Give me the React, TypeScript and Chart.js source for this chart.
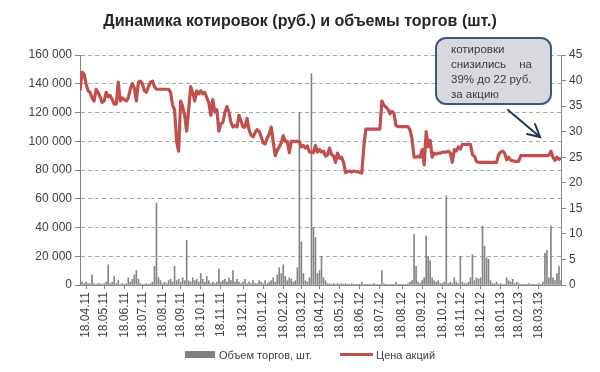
import React, { useEffect, useRef } from 'react';
import { Chart, registerables } from 'chart.js';

Chart.register(...registerables);

const FONT = '"Liberation Sans", Arial, sans-serif';

const title = 'Динамика котировок (руб.) и объемы торгов (шт.)';

// month tick labels and the trading-day index at which each falls
const months = [
  '18.04.11', '18.05.11', '18.06.11', '18.07.11', '18.08.11', '18.09.11', '18.10.11', '18.11.11', '18.12.11',
  '18.01.12', '18.02.12', '18.03.12', '18.04.12', '18.05.12', '18.06.12', '18.07.12', '18.08.12', '18.09.12',
  '18.10.12', '18.11.12', '18.12.12', '18.01.13', '18.02.13', '18.03.13',
];
const monthIndex = [3, 12, 22, 31, 41, 50, 60, 70, 81, 91, 101, 110, 119, 129, 139, 149, 160, 170, 180, 189, 199, 209, 218, 228];

// share price, rub.
const price = [
  38.0, 41.6, 41.3, 39.4, 38.0, 37.7, 36.6, 36.0, 38.3, 37.7,
  36.8, 35.7, 36.0, 37.7, 36.8, 37.1, 36.3, 35.4, 35.4, 39.7,
  36.0, 36.6, 36.3, 36.0, 36.6, 38.3, 39.4, 38.5, 36.0, 39.7,
  39.9, 39.4, 38.0, 37.7, 38.8, 39.7, 39.9, 38.8, 38.3, 38.3,
  38.3, 38.3, 38.3, 38.3, 38.3, 37.7, 35.2, 34.3, 28.1, 26.2,
  36.0, 34.9, 33.2, 30.1, 34.3, 38.8, 37.7, 36.0, 38.0, 37.4,
  38.0, 37.4, 37.7, 36.6, 35.7, 33.2, 36.3, 33.8, 34.3, 30.1,
  31.5, 31.8, 33.8, 34.9, 33.8, 31.8, 30.9, 31.2, 30.9, 33.2,
  32.1, 30.9, 30.9, 32.6, 30.4, 29.3, 29.0, 29.8, 30.4, 30.1,
  29.0, 27.8, 27.6, 28.7, 29.5, 30.9, 28.1, 25.3, 26.4, 27.0,
  27.8, 29.2, 28.1, 28.1, 25.9, 28.1, 28.1, 28.1, 28.1, 28.0,
  27.0, 27.3, 26.8, 27.2, 26.0, 26.0, 25.9, 27.3, 26.0, 26.5,
  26.0, 26.2, 25.2, 25.5, 26.8, 25.5, 25.3, 24.0, 25.8, 24.8,
  25.0, 23.9, 22.0, 22.2, 22.3, 22.1, 22.3, 22.2, 22.2, 22.0,
  21.9, 27.0, 30.5, 30.5, 30.5, 30.5, 30.5, 30.5, 30.5, 30.5,
  36.0, 35.2, 34.8, 34.4, 33.5, 34.0, 33.6, 31.2, 31.0, 31.0,
  31.0, 31.0, 31.0, 31.0, 30.3, 28.5, 25.0, 25.0, 25.2, 25.0,
  26.5, 23.5, 30.0, 27.0, 28.3, 25.0, 25.8, 25.6, 25.8, 25.8,
  26.0, 26.0, 26.0, 26.2, 25.8, 24.0, 26.5, 26.2, 27.0, 26.6,
  27.5, 27.5, 27.5, 27.5, 27.5, 25.5, 25.2, 24.2, 24.0, 24.0,
  24.0, 24.0, 24.0, 24.0, 24.0, 24.0, 24.0, 24.0, 25.5, 26.0,
  26.2, 25.8, 24.5, 25.0, 24.4, 24.3, 24.2, 24.2, 24.2, 25.3,
  25.3, 25.3, 25.3, 25.3, 25.3, 25.3, 25.3, 25.3, 25.3, 25.3,
  25.3, 25.3, 25.3, 25.4, 26.2, 25.0, 24.4, 25.0, 24.6, 24.8,
];

// trading volume, shares
const volume = [
  4000, 2000, 1000, 2000, 1000, 1000, 7000, 1000, 500, 1000,
  1000, 500, 1000, 2000, 14000, 1000, 2000, 6000, 1000, 3000,
  500, 1000, 500, 1000, 5000, 2000, 4000, 7000, 10000, 4000,
  1000, 500, 500, 1000, 500, 1000, 2000, 13000, 57000, 5000,
  3000, 1000, 2000, 1000, 3000, 4000, 2000, 13000, 3000, 4000,
  2000, 5000, 3000, 31000, 3000, 2000, 5000, 3000, 4000, 2000,
  8000, 4000, 2000, 6000, 3000, 1000, 2000, 1000, 2000, 11000,
  2000, 3000, 4000, 2000, 5000, 3000, 10000, 2000, 4000, 2000,
  1000, 2000, 4000, 1000, 2000, 1000, 3000, 1000, 1000, 3000,
  2000, 1000, 3000, 1000, 2000, 3000, 5000, 2000, 7000, 12000,
  8000, 14000, 6000, 3000, 5000, 4000, 2000, 3000, 12000, 120000,
  30000, 8000, 3000, 2000, 5000, 147000, 40000, 33000, 8000, 10000,
  20000, 5000, 3000, 1000, 1000, 500, 1000, 500, 1000, 500,
  1000, 500, 1000, 500, 500, 1000, 500, 500, 500, 500,
  2000, 500, 500, 500, 500, 500, 1000, 500, 500, 500,
  10000, 1000, 500, 500, 500, 500, 500, 2000, 500, 500,
  500, 500, 500, 1000, 2000, 3000, 35000, 13000, 2000, 1000,
  3000, 5000, 34000, 20000, 17000, 5000, 3000, 2000, 3000, 1000,
  1000, 2000, 62000, 1000, 2000, 1000, 5000, 2000, 1000, 20000,
  2000, 1000, 1000, 2000, 5000, 21000, 3000, 5000, 4000, 5000,
  41000, 27000, 19000, 18000, 3000, 1000, 1000, 2000, 500, 1000,
  500, 500, 5000, 3000, 2000, 4000, 1000, 2000, 1000, 500,
  500, 500, 500, 1000, 500, 500, 500, 500, 1000, 500,
  2000, 22000, 24000, 5000, 41000, 5000, 3000, 8000, 13000, 3000,
];

const calloutLines = ['котировки', 'снизились', 'на', '39% до 22 руб.', 'за акцию'];

const fmtThousands = (v: number) => String(v).replace(/\B(?=(\d{3})+(?!\d))/g, ' ');

const calloutPlugin = {
  id: 'callout',
  afterDraw(chart: any) {
    const ctx = chart.ctx as CanvasRenderingContext2D;
    ctx.save();
    ctx.beginPath();
    (ctx as any).roundRect(436, 38, 115, 66, 10);
    ctx.fillStyle = '#d8d9dc';
    ctx.fill();
    ctx.lineWidth = 2;
    ctx.strokeStyle = '#3a5882';
    ctx.stroke();
    ctx.fillStyle = '#3a3a3a';
    ctx.font = `11.5px ${FONT}`;
    ctx.textBaseline = 'middle';
    ctx.textAlign = 'left';
    ctx.fillText(calloutLines[0], 451, 50);
    ctx.fillText(calloutLines[1], 451, 65);
    ctx.textAlign = 'right';
    ctx.fillText(calloutLines[2], 532, 65);
    ctx.textAlign = 'left';
    ctx.fillText(calloutLines[3], 451, 80);
    ctx.fillText(calloutLines[4], 451, 95);
    // arrow
    ctx.strokeStyle = '#1f3658';
    ctx.lineWidth = 2;
    ctx.lineCap = 'round';
    ctx.beginPath();
    ctx.moveTo(508, 110);
    ctx.lineTo(540, 137);
    ctx.stroke();
    ctx.beginPath();
    ctx.moveTo(535, 124);
    ctx.lineTo(540, 137);
    ctx.lineTo(527, 134);
    ctx.stroke();
    ctx.restore();
  },
};

export default function App() {
  const ref = useRef<HTMLCanvasElement>(null);

  useEffect(() => {
    document.body.style.margin = '0';
    const chart = new Chart(ref.current as HTMLCanvasElement, {
      type: 'bar',
      data: {
        datasets: [
          {
            type: 'bar',
            label: 'Объем торгов, шт.',
            data: volume.map((v, i) => ({ x: i, y: v })),
            backgroundColor: '#858585',
            borderWidth: 0,
            barThickness: 1,
            grouped: false,
            yAxisID: 'y',
            order: 2,
          } as any,
          {
            type: 'line',
            label: 'Цена акций',
            data: price.map((v, i) => ({ x: i, y: v })),
            borderColor: '#c0504d',
            backgroundColor: '#c0504d',
            borderWidth: 3.2,
            pointRadius: 0,
            tension: 0,
            borderJoinStyle: 'round',
            yAxisID: 'y1',
            order: 1,
          } as any,
        ],
      },
      options: {
        responsive: false,
        animation: false,
        devicePixelRatio: 1,
        layout: { padding: { top: 55, left: 0, right: 0, bottom: 0 } },
        plugins: {
          legend: { display: false },
          tooltip: { enabled: false },
          title: { display: false },
        },
        scales: {
          x: {
            type: 'linear',
            min: 0,
            max: price.length - 1,
            bounds: 'data',
            offset: false,
            afterBuildTicks: (axis: any) => {
              axis.ticks = monthIndex.map((v) => ({ value: v }));
            },
            afterFit: (s: any) => {
              s.height = 87;
            },
            ticks: {
              autoSkip: false,
              maxRotation: 90,
              minRotation: 90,
              padding: 3,
              color: '#404040',
              font: { family: FONT, size: 12 },
              callback: (_v: any, idx: number) => months[idx],
            },
            grid: {
              display: true,
              drawOnChartArea: false,
              drawTicks: true,
              tickLength: 4,
              color: '#868686',
              offset: false,
            },
            border: { display: true, color: '#868686', width: 1 },
          },
          y: {
            position: 'left',
            min: 0,
            max: 160000,
            afterFit: (s: any) => {
              s.width = 80;
            },
            ticks: {
              stepSize: 20000,
              padding: 3,
              color: '#404040',
              font: { family: FONT, size: 12 },
              callback: (v: any) => fmtThousands(Number(v)),
            },
            grid: {
              color: '#a8a8a8',
              tickLength: 5,
              tickColor: '#868686',
              tickBorderDash: [],
              drawTicks: true,
            },
            border: { display: true, color: '#868686', dash: [4, 3] },
          },
          y1: {
            position: 'right',
            min: 0,
            max: 45,
            afterFit: (s: any) => {
              s.width = 39;
            },
            ticks: {
              stepSize: 5,
              padding: 3,
              color: '#404040',
              font: { family: FONT, size: 12 },
            },
            grid: {
              drawOnChartArea: false,
              drawTicks: true,
              tickLength: 5,
              color: '#868686',
            },
            border: { display: true, color: '#868686' },
          },
        },
      } as any,
      plugins: [calloutPlugin],
    });
    return () => chart.destroy();
  }, []);

  const legendText: React.CSSProperties = {
    position: 'absolute',
    top: 347,
    fontSize: 11,
    lineHeight: '16px',
    color: '#404040',
    whiteSpace: 'nowrap',
  };

  return (
    <div style={{ position: 'relative', width: 600, height: 372, background: '#fff', fontFamily: FONT, overflow: 'hidden' }}>
      <canvas ref={ref} width={600} height={372} style={{ position: 'absolute', left: 0, top: 0, width: 600, height: 372 }} />
      <div
        style={{
          position: 'absolute',
          top: 10,
          left: 0,
          width: 600,
          textAlign: 'center',
          fontWeight: 'bold',
          fontSize: 16,
          lineHeight: '21px',
          color: '#262626',
        }}
      >
        {title}
      </div>
      <div style={{ position: 'absolute', left: 185, top: 351, width: 30, height: 7, background: '#7f7f7f' }} />
      <div style={{ ...legendText, left: 219 }}>Объем торгов, шт.</div>
      <div style={{ position: 'absolute', left: 340, top: 353, width: 33, height: 3, background: '#c0504d' }} />
      <div style={{ ...legendText, left: 376 }}>Цена акций</div>
    </div>
  );
}
